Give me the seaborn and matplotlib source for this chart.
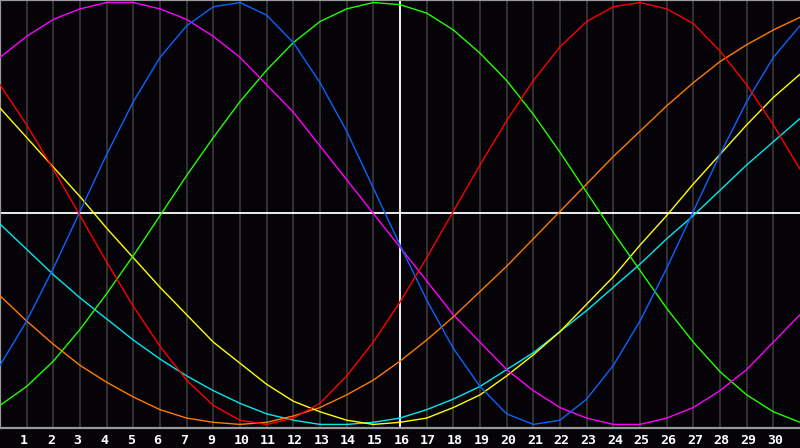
import matplotlib
matplotlib.use("Agg")
import matplotlib.pyplot as plt
from matplotlib import transforms
import pandas as pd
import seaborn as sns

# curve readings at each day boundary (0..30), scaled to -1..1
days = list(range(0, 31))
magenta = [0.74, 0.84, 0.92, 0.97, 1.00, 1.00, 0.97, 0.92, 0.84, 0.74, 0.61, 0.48, 0.32, 0.16, 0.00, -0.16, -0.32, -0.48, -0.61, -0.74, -0.84, -0.92, -0.97, -1.00, -1.00, -0.97, -0.92, -0.84, -0.74, -0.61, -0.48]
blue = [-0.72, -0.51, -0.26, 0.01, 0.28, 0.53, 0.74, 0.89, 0.98, 1.00, 0.94, 0.81, 0.62, 0.39, 0.12, -0.15, -0.41, -0.64, -0.82, -0.95, -1.00, -0.98, -0.88, -0.72, -0.51, -0.26, 0.01, 0.28, 0.53, 0.74, 0.89]
green = [-0.91, -0.82, -0.70, -0.55, -0.38, -0.20, -0.01, 0.18, 0.36, 0.53, 0.68, 0.81, 0.91, 0.97, 1.00, 0.99, 0.95, 0.87, 0.76, 0.63, 0.47, 0.29, 0.10, -0.09, -0.27, -0.45, -0.61, -0.75, -0.86, -0.94, -0.99]
red = [0.61, 0.42, 0.21, -0.01, -0.23, -0.44, -0.63, -0.79, -0.91, -0.98, -1.00, -0.97, -0.90, -0.77, -0.61, -0.42, -0.21, 0.01, 0.23, 0.44, 0.63, 0.79, 0.91, 0.98, 1.00, 0.97, 0.90, 0.77, 0.61, 0.42, 0.21]
yellow = [0.50, 0.36, 0.22, 0.08, -0.07, -0.21, -0.35, -0.48, -0.61, -0.71, -0.81, -0.89, -0.94, -0.98, -1.00, -0.99, -0.97, -0.92, -0.86, -0.77, -0.67, -0.56, -0.43, -0.30, -0.15, -0.01, 0.14, 0.28, 0.42, 0.55, 0.66]
orange = [-0.39, -0.51, -0.62, -0.72, -0.80, -0.87, -0.93, -0.97, -0.99, -1.00, -0.99, -0.96, -0.92, -0.86, -0.79, -0.70, -0.60, -0.49, -0.37, -0.25, -0.12, 0.01, 0.14, 0.27, 0.39, 0.51, 0.62, 0.72, 0.80, 0.87, 0.93]
cyan = [-0.05, -0.17, -0.29, -0.40, -0.50, -0.60, -0.69, -0.77, -0.84, -0.90, -0.95, -0.98, -1.00, -1.00, -0.99, -0.97, -0.93, -0.88, -0.82, -0.74, -0.66, -0.56, -0.46, -0.35, -0.24, -0.12, -0.01, 0.11, 0.23, 0.34, 0.45]

tick_days = list(range(1, 30))
tick_labels = ["1", "2", "3", "4", "5", "6", "7", "9", "10", "11", "12", "13", "14", "15",
               "16", "17", "18", "19", "20", "21", "22", "23", "24", "25", "26", "27", "28",
               "29", "30"]
today = 15

colors = {
    "cyan": "#00e8f0",
    "orange": "#ff7a00",
    "yellow": "#ffff00",
    "green": "#22ff00",
    "magenta": "#ff00ff",
    "blue": "#0a64ff",
    "red": "#ff0000",
}
series = {"cyan": cyan, "orange": orange, "yellow": yellow, "green": green,
          "magenta": magenta, "blue": blue, "red": red}

df = pd.concat(
    [pd.DataFrame({"day": days, "value": v, "curve": k}) for k, v in series.items()],
    ignore_index=True,
)

sns.set_style("dark")
bg = "#050307"
fig = plt.figure(figsize=(8, 4.48), dpi=100, facecolor=bg)
ax = fig.add_axes([0, 20 / 448, 1, 428 / 448])
ax.set_facecolor(bg)

for d in tick_days:
    ax.axvline(d, color="#3a3a3a", lw=1.2, zorder=1)
ax.axhline(0, color="white", lw=1.3, zorder=2)
ax.axvline(today, color="white", lw=1.3, zorder=2)

sns.lineplot(data=df, x="day", y="value", hue="curve", palette=colors,
             hue_order=list(series.keys()), lw=1.0, legend=False, ax=ax,
             estimator=None, zorder=3)

ax.set_xlim(0, 30)
ax.set_ylim(-1.017, 1.012)
ax.set_xlabel("")
ax.set_ylabel("")
ax.grid(False)
ax.set_yticks([])
ax.set_xticks(tick_days)
ax.set_xticklabels(tick_labels, color="white", fontsize=9.5, fontweight="bold",
                   family="DejaVu Sans Mono", ha="left")
ax.tick_params(axis="x", length=0, pad=4)
shift = transforms.ScaledTranslation(-6.5 / 100, 0, fig.dpi_scale_trans)
for lab in ax.get_xticklabels():
    lab.set_transform(lab.get_transform() + shift)

for side in ["left", "top", "bottom"]:
    ax.spines[side].set_visible(True)
    ax.spines[side].set_color("#9a9a9a")
    ax.spines[side].set_linewidth(1.6)
ax.spines["right"].set_visible(False)

fig.savefig("out.png", dpi=100, facecolor=bg)
